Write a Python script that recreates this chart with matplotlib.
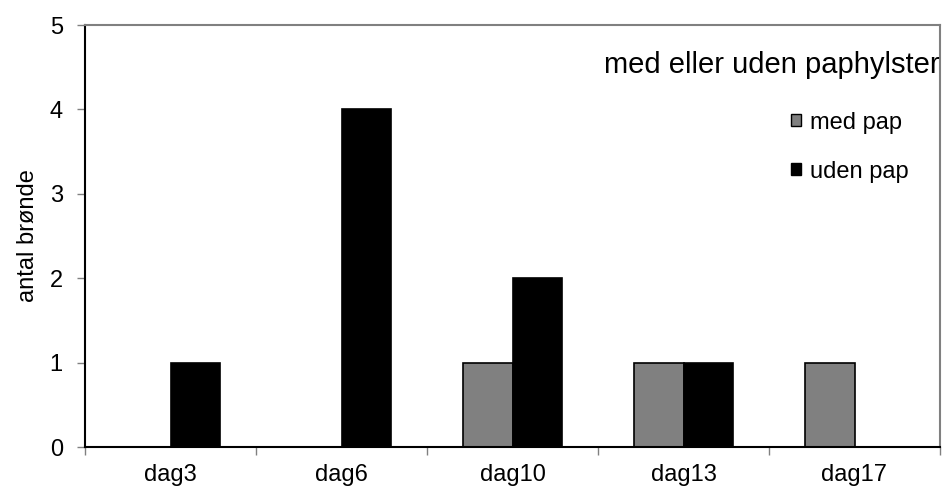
import numpy as np
import matplotlib.pyplot as plt
from matplotlib.patches import Patch

plt.rcParams['font.family'] = ['Liberation Sans', 'DejaVu Sans']

dage = ['dag3', 'dag6', 'dag10', 'dag13', 'dag17']
med_pap = [0, 0, 1, 1, 1]
uden_pap = [1, 4, 2, 1, 0]

x = np.arange(len(dage))
w = 0.292

fig = plt.figure(figsize=(9.48, 4.91), dpi=100)
ax = fig.add_axes([85/948, 44/491, 855/948, 422/491])

ax.bar(x, med_pap, -w, align='edge', color='#808080', edgecolor='black', linewidth=1.2)
ax.bar(x, uden_pap, w, align='edge', color='black', edgecolor='black', linewidth=1.2)

ax.set_xlim(-0.5, len(dage) - 0.5)
ax.set_ylim(0, 5)

# ticks on category boundaries, labels in the middle
ax.set_xticks(np.arange(len(dage) + 1) - 0.5)
ax.set_xticklabels([])
ax.set_xticks(x, minor=True)
ax.set_xticklabels(dage, minor=True, fontsize=17)
ax.tick_params(axis='x', which='major', direction='out', length=6, width=1, color='#808080')
ax.tick_params(axis='x', which='minor', length=0, pad=12)
ax.set_yticks(range(6))
ax.tick_params(axis='y', direction='out', length=6, width=1, color='#808080', labelsize=17, pad=10)

ax.spines['left'].set_color('black')
ax.spines['bottom'].set_color('black')
ax.spines['top'].set_color('#808080')
ax.spines['right'].set_color('#808080')
for s in ax.spines.values():
    s.set_linewidth(1.5)

ax.set_ylabel('antal brønde', fontsize=17, labelpad=8)

ax.text(1.0, 0.905, 'med eller uden paphylster', transform=ax.transAxes,
        ha='right', va='center', fontsize=21)

handles = [Patch(facecolor='#808080', edgecolor='black', label='med pap'),
           Patch(facecolor='black', edgecolor='black', label='uden pap')]
ax.legend(handles=handles, loc='upper left', bbox_to_anchor=(0.826, 0.795),
          frameon=False, fontsize=17, borderpad=0, borderaxespad=0,
          handlelength=0.42, handleheight=0.42, handletextpad=0.38,
          labelspacing=1.15)

plt.savefig('out.png', dpi=100)
